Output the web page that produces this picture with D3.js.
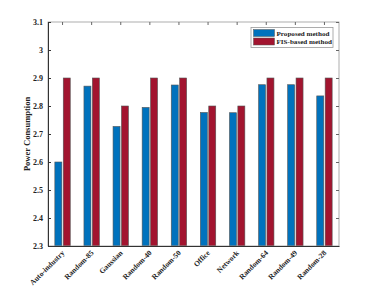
<!DOCTYPE html>
<html>
<head>
<meta charset="utf-8">
<script src="https://cdn.jsdelivr.net/npm/d3@7"></script>
<style>
body{margin:0;background:#fff;}
text{font-family:"Liberation Serif","DejaVu Serif",serif;font-weight:bold;}
</style>
</head>
<body>
<svg id="chart" width="374" height="289"></svg>
<script>
const categories = ['Auto-industry','Random-85','Gaussian','Random-40','Random-50','Office','Network','Random-64','Random-49','Random-28'];
const proposed = [2.6, 2.871, 2.727, 2.795, 2.875, 2.777, 2.776, 2.876, 2.876, 2.836];
const fisBased = [2.9, 2.9, 2.8, 2.9, 2.9, 2.8, 2.8, 2.9, 2.9, 2.9];
const seriesNames = ['Proposed method', 'FIS-based method'];
const yTicks = [2.3, 2.4, 2.5, 2.6, 2.7, 2.8, 2.9, 3, 3.1];

const colors = ['#0072BD', '#A2142F'];
const plotLeft = 48, plotRight = 339, plotTop = 22, plotBottom = 246;

let svg = d3.select('#chart');

let x = d3.scaleBand().domain(categories).range([plotLeft, plotRight]).paddingInner(0).paddingOuter(0);
let y = d3.scaleLinear().domain([2.3, 3.1]).range([plotBottom, plotTop]);
let barW = 7;

// bars
let series = [proposed, fisBased];
for(let s = 0; s < series.length; s++){
    svg.append('g').selectAll('rect')
        .data(series[s])
        .enter().append('rect')
        .attr('x', function(d, i){return x(categories[i]) + x.bandwidth()/2 + (s == 0 ? -barW - 0.7 : 0.7)})
        .attr('y', function(d){return y(d)})
        .attr('width', barW)
        .attr('height', function(d){return plotBottom - y(d)})
        .style('fill', colors[s])
        .style('stroke', '#555')
        .style('stroke-width', 0.6);
}

// box
svg.append('rect').attr('x', plotLeft).attr('y', plotTop).attr('width', plotRight-plotLeft).attr('height', plotBottom-plotTop)
    .style('fill', 'none').style('stroke', '#999').style('stroke-width', 0.8);

// left axis
let yAxis = svg.append('g').attr('transform', 'translate(' + plotLeft + ',0)')
    .call(d3.axisLeft(y).tickValues(yTicks).tickSize(-3).tickPadding(5).tickFormat(d3.format('')));
yAxis.select('.domain').style('stroke', '#333').style('stroke-width', 1);
yAxis.selectAll('line').style('stroke', '#333');
yAxis.selectAll('text').style('font-size', '8px').style('fill', '#222').attr('font-family', null);

// right ticks
svg.append('g').attr('transform', 'translate(' + plotRight + ',0)')
    .call(d3.axisRight(y).tickValues(yTicks).tickSize(-3).tickFormat(''))
    .call(g => g.select('.domain').remove())
    .selectAll('line').style('stroke', '#666');

// bottom axis
let xAxis = svg.append('g').attr('transform', 'translate(0,' + plotBottom + ')')
    .call(d3.axisBottom(x).tickSize(0).tickPadding(4));
xAxis.select('.domain').style('stroke', '#333').style('stroke-width', 1);
xAxis.selectAll('text')
    .style('font-size', '7.5px').style('fill', '#222').attr('font-family', null)
    .style('text-anchor', 'end')
    .attr('dy', '0.3em')
    .attr('transform', 'translate(-2,3) rotate(-45)');

// top ticks
svg.append('g').attr('transform', 'translate(0,' + plotTop + ')')
    .call(d3.axisTop(x).tickSize(-3).tickFormat(''))
    .call(g => g.select('.domain').remove())
    .selectAll('line').style('stroke', '#666');

// y label
svg.append('text')
    .attr('transform', 'translate(30,' + ((plotTop + plotBottom)/2) + ') rotate(-90)')
    .attr('text-anchor', 'middle')
    .style('font-size', '8.5px').style('fill', '#222')
    .text('Power Consumption');

// legend
let lg = svg.append('g');
lg.append('rect').attr('x', 251).attr('y', 27.5).attr('width', 82).attr('height', 20)
    .style('fill', '#fff').style('stroke', '#999').style('stroke-width', 0.8);
for(let s = 0; s < seriesNames.length; s++){
    let yy = 29.5 + s * 8.5;
    lg.append('rect').attr('x', 253.5).attr('y', yy).attr('width', 21).attr('height', 7)
        .style('fill', colors[s]).style('stroke', '#555').style('stroke-width', 0.5);
    lg.append('text').attr('x', 276.5).attr('y', yy + 3.7).attr('dy', '0.35em')
        .style('font-size', '7.1px').style('fill', '#222')
        .text(seriesNames[s]);
}
</script>
</body>
</html>
